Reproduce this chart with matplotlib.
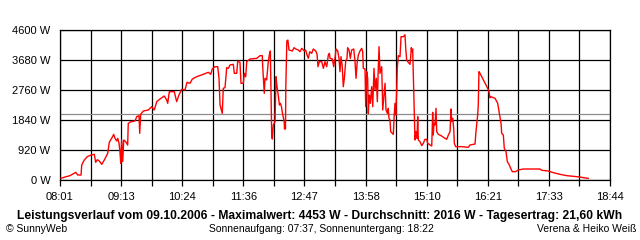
#!/usr/bin/env python3
"""
SunnyWeb style daily power curve (Leistungsverlauf) for 09.10.2006.
"""

import numpy as np
import matplotlib
matplotlib.use('Agg')
import matplotlib.pyplot as plt

# time of day in minutes after midnight
minutes = [
    482.2, 486.8, 492.7, 497.4, 499.4, 501.7, 505.6, 506.4, 509.4, 512.9,
    517.2, 521.1, 522.7, 524.6, 526.9, 529.8, 532.8, 536.8, 538.6, 541.4,
    543.8, 545.3, 547.3, 548.5, 550.0, 551.1, 552.0, 553.1, 554.3, 555.5,
    557.8, 560.1, 560.8, 564.0, 568.7, 570.7, 573.4, 574.2, 575.3, 578.4,
    584.2, 588.2, 591.2, 594.1, 597.9, 602.9, 605.7, 606.9, 608.8, 614.6,
    617.4, 620.1, 623.3, 627.1, 629.5, 633.0, 635.7, 640.8, 648.5, 654.4,
    657.2, 659.0, 662.2, 665.4, 666.9, 668.1, 670.7, 671.9, 673.9, 675.9,
    677.8, 679.7, 683.6, 684.8, 687.6, 688.8, 691.4, 692.6, 695.3, 696.5,
    698.1, 699.3, 703.1, 711.0, 714.8, 717.5, 718.0, 719.8, 720.7, 722.6,
    724.5, 725.7, 726.9, 727.7, 728.5, 729.2, 730.4, 732.4, 733.5, 734.7,
    736.4, 737.5, 738.7, 739.9, 741.1, 743.1, 743.4, 744.6, 745.0, 746.2,
    747.4, 748.7, 752.6, 754.6, 756.6, 759.6, 761.6, 763.6, 766.6, 768.2,
    769.8, 771.3, 773.0, 775.3, 777.1, 780.0, 781.5, 782.6, 784.2, 787.0,
    788.9, 790.8, 792.8, 794.7, 795.9, 796.7, 799.4, 801.0, 802.5, 803.7,
    805.7, 807.2, 808.3, 809.5, 811.0, 812.2, 813.4, 815.0, 816.5, 817.3,
    818.9, 820.4, 822.0, 824.4, 825.9, 827.1, 828.3, 829.8, 831.7, 833.7,
    834.9, 835.6, 837.6, 838.4, 839.6, 840.7, 841.4, 842.6, 843.8, 845.4,
    846.6, 848.1, 849.3, 850.8, 852.0, 853.1, 854.0, 855.1, 857.1, 858.3,
    859.8, 861.0, 862.1, 863.7, 864.8, 865.6, 866.8, 867.6, 869.5, 870.7,
    871.8, 872.6, 873.5, 874.6, 875.3, 876.5, 878.5, 879.7, 882.4, 884.3,
    885.2, 886.3, 887.5, 890.2, 891.0, 891.7, 892.5, 893.3, 894.5, 895.2,
    896.0, 897.2, 898.4, 899.2, 899.9, 901.9, 903.9, 905.7, 907.7, 909.7,
    910.9, 913.6, 915.6, 916.7, 917.4, 918.2, 919.4, 920.6, 921.4, 923.3,
    927.2, 931.1, 933.1, 935.0, 937.0, 938.1, 939.0, 940.1, 941.3, 942.0,
    943.6, 950.6, 958.4, 960.3, 966.2, 967.3, 969.3, 970.0, 970.8, 972.0,
    974.0, 975.9, 977.9, 981.0, 982.5, 983.7, 984.9, 989.6, 992.7, 994.6,
    996.6, 997.4, 999.3, 1000.4, 1002.4, 1004.0, 1005.9, 1007.9, 1009.8, 1013.8,
    1016.8, 1022.6, 1032.5, 1042.2, 1044.2, 1051.9, 1057.7, 1065.6, 1073.4, 1088.9,
    1092.8, 1098.6,
]

# AC power in W
power = [
    52, 92, 133, 205, 235, 153, 153, 460, 613, 716,
    767, 787, 542, 624, 583, 480, 613, 818, 1155, 1278,
    1400, 1278, 1196, 1278, 1125, 869, 511, 1227, 562, 1227,
    1176, 1073, 1738, 1789, 1809, 1943, 1973, 1431, 2014, 2116,
    2147, 2249, 2147, 2402, 2484, 2576, 2453, 2351, 2708, 2708,
    2402, 2607, 2781, 2760, 2995, 2965, 3097, 3168, 3241, 3302,
    3241, 3404, 3475, 3475, 3118, 2300, 2045, 2812, 2832, 3445,
    3424, 3527, 3547, 3271, 3271, 3650, 3608, 2965, 2965, 3271,
    3168, 3629, 3710, 3731, 3813, 3813, 3475, 2658, 3118, 3067,
    3629, 3833, 3956, 2760, 1380, 1257, 1687, 1789, 3168, 2862,
    2555, 2300, 2351, 2249, 2045, 1789, 1564, 1564, 2862, 4263,
    4293, 3987, 3956, 4058, 4017, 3987, 3935, 4037, 3956, 3987,
    3833, 3731, 3935, 3884, 4017, 3956, 3853, 3475, 3629, 3629,
    3424, 3629, 3475, 3833, 3884, 3731, 3710, 3475, 3731, 4017,
    3956, 3731, 3322, 3782, 3475, 2862, 3118, 3629, 3731, 4058,
    3987, 3731, 3987, 4017, 3629, 3118, 3578, 3833, 3956, 4037,
    3935, 3424, 3404, 2249, 3322, 3118, 2045, 2607, 2351, 2862,
    2249, 3424, 2760, 3118, 2402, 3424, 4089, 3271, 3475, 2147,
    2607, 2965, 2147, 2045, 2198, 1891, 1840, 1482, 1431, 1400,
    2014, 2351, 1993, 2708, 3424, 3813, 3782, 4395, 4395, 4453,
    4037, 3680, 3629, 3547, 3782, 4058, 3935, 4017, 2812, 1993,
    1227, 1482, 1278, 1943, 1227, 1176, 1053, 1125, 1247, 1247,
    1125, 1073, 1043, 2076, 1380, 1738, 1687, 2198, 1482, 1400,
    1349, 1278, 1247, 1380, 1482, 2177, 1789, 1891, 1585, 1125,
    1022, 1022, 1002, 1073, 1104, 1482, 1993, 2300, 3322, 3271,
    3168, 3067, 2965, 2812, 2708, 2524, 2555, 2505, 2351, 2045,
    1738, 1431, 1380, 972, 869, 562, 480, 358, 256, 256,
    307, 337, 337, 337, 297, 276, 225, 174, 133, 92,
    71, 51,
]

average_w = 2016
time_labels = ['08:01', '09:13', '10:24', '11:36', '12:47',
               '13:58', '15:10', '16:21', '17:33', '18:44']
y_values = [0, 920, 1840, 2760, 3680, 4600]
y_labels = ['0 W', '920 W', '1840 W', '2760 W', '3680 W', '4600 W']

title_text = ('Leistungsverlauf vom 09.10.2006 - Maximalwert: 4453 W - '
              'Durchschnitt: 2016 W - Tagesertrag: 21,60 kWh')
left_text = '\u00a9 SunnyWeb'
middle_text = 'Sonnenaufgang: 07:37, Sonnenuntergang: 18:22'
right_text = 'Verena & Heiko Wei\u00df'

plt.rcParams['font.family'] = ['Liberation Sans', 'DejaVu Sans']

fig = plt.figure(figsize=(6.4, 2.4), dpi=100)
ax = fig.add_axes([60 / 640, 60 / 240, 550 / 640, 150 / 240])

t_start, t_end = 481, 1124
grid_x = np.linspace(t_start, t_end, 19)
lw = 0.9

# grid
for gx in grid_x:
    ax.axvline(gx, color='black', linewidth=lw, zorder=1)
for gy in y_values:
    ax.axhline(gy, color='black', linewidth=lw, zorder=1)

ax.axhline(average_w, color='#8c8c8c', linewidth=lw, zorder=2)
ax.plot(minutes, power, color='#ff0000', linewidth=1.0, zorder=3)

ax.set_xlim(t_start, t_end)
ax.set_ylim(0, 4600)
ax.set_xticks(grid_x)
ax.set_xticklabels([time_labels[i // 2] if i % 2 == 0 else ''
                    for i in range(len(grid_x))])
ax.set_yticks(y_values)
ax.set_yticklabels(y_labels)
ax.set_yticks([0], minor=True)
ax.tick_params(axis='x', direction='out', length=4, width=lw, pad=5,
               labelsize=8, color='black')
ax.tick_params(axis='y', which='major', length=0, pad=7, labelsize=8)
ax.tick_params(axis='y', which='minor', length=4, width=lw, color='black')
for sp in ax.spines.values():
    sp.set_linewidth(lw)
    sp.set_color('black')

fig.text(0.5, 1 - 216 / 240, title_text, ha='center', va='center',
         fontsize=8.7, fontweight='bold')
fig.text(6 / 640, 1 - 229 / 240, left_text, ha='left', va='center', fontsize=7.5)
fig.text(321 / 640, 1 - 229 / 240, middle_text, ha='center', va='center',
         fontsize=7.5)
fig.text(636 / 640, 1 - 229 / 240, right_text, ha='right', va='center',
         fontsize=7.5)

fig.savefig('out.png', dpi=100)
